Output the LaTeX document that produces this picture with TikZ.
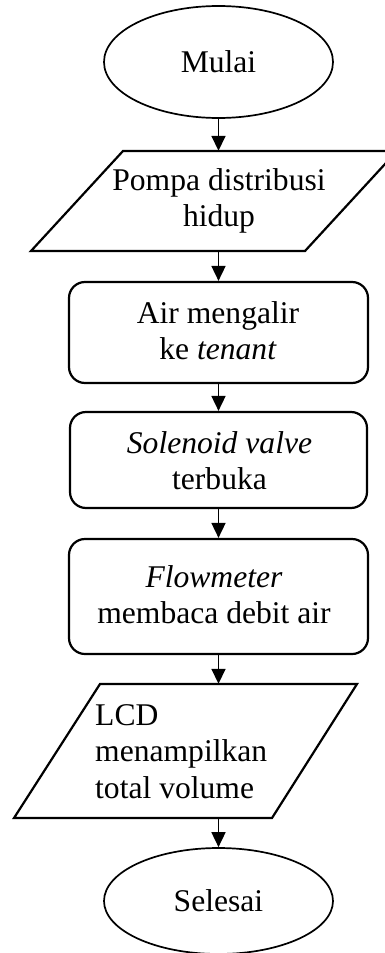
\documentclass[tikz,border=0pt]{standalone}
\usepackage{fontspec}
\setmainfont{Liberation Serif}
\usetikzlibrary{shapes.geometric,arrows.meta,calc}

\newcommand{\flowfont}{\fontsize{31.6}{36.5}\selectfont}

\begin{document}
\begin{tikzpicture}[x=1pt,y=-1pt,
  term/.style={ellipse, draw, line width=1.7pt, minimum width=229pt,
               inner sep=0pt, font=\flowfont},
  procbox/.style={rectangle, draw, rounded corners=16pt, line width=2.2pt,
                  minimum width=299pt, inner sep=0pt},
  ioframe/.style={rectangle, draw=none, inner sep=0pt, minimum width=274pt},
  ioline/.style={line width=2.2pt, line join=miter},
  label/.style={inner sep=0pt, font=\flowfont, anchor=base},
  arr/.style={line width=1.7pt, -{Triangle[length=15pt,width=14pt]}}]

  \useasboundingbox (0,0) rectangle (385,953);
  \clip (0,0) rectangle (385,953);

  % start terminal
  \node[term, minimum height=112pt] (start) at (218.5,62) {Mulai};

  % input: pump switched on
  \node[ioframe, minimum height=100pt] (io1) at (218.5,201) {};
  \draw[ioline] ($(io1.center)+(-187.5,50)$) -- ($(io1.center)+(86.5,50)$)
     -- ($(io1.center)+(178.5,-50)$) -- ($(io1.center)+(-95.5,-50)$) -- cycle;
  \node[label] (io1t) at (219,190)
     {\begin{tabular}[t]{@{}c@{}}Pompa distribusi\\hidup\end{tabular}};

  % process steps
  \node[procbox, minimum height=101pt] (b1) at (218.5,332.5) {};
  \node[label] (b1t) at (218,323)
     {\begin{tabular}[t]{@{}c@{}}Air mengalir\\ke \textit{tenant}\end{tabular}};

  \node[procbox, minimum width=297pt, minimum height=96pt] (b2) at (218.5,460) {};
  \node[label] (b2t) at (219.5,453)
     {\begin{tabular}[t]{@{}c@{}}\textit{Solenoid valve}\\terbuka\end{tabular}};

  \node[procbox, minimum height=115pt] (b3) at (218.5,596.5) {};
  \node[label] (b3t) at (214,587)
     {\begin{tabular}[t]{@{}c@{}}\textit{Flowmeter}\\membaca debit air\end{tabular}};

  % output: LCD display
  \node[ioframe, minimum height=134pt] (io2) at (218.5,751) {};
  \draw[ioline] ($(io2.center)+(-118.5,-67)$) -- ($(io2.center)+(138.5,-67)$)
     -- ($(io2.center)+(53.5,67)$) -- ($(io2.center)+(-204.5,67)$) -- cycle;
  \node[label, anchor=base west] (io2t) at (95,725)
     {\begin{tabular}[t]{@{}l@{}}LCD\\menampilkan\\total volume\end{tabular}};

  % end terminal
  \node[term, minimum height=106pt] (stop) at (218.5,901) {Selesai};

  % connectors
  \draw[arr] (start.south) -- (io1.north);
  \draw[arr] (io1.south) -- (b1.north);
  \draw[arr] (b1.south) -- (b2.north);
  \draw[arr] (b2.south) -- (b3.north);
  \draw[arr] (b3.south) -- (io2.north);
  \draw[arr] (io2.south) -- (stop.north);
\end{tikzpicture}
\end{document}
